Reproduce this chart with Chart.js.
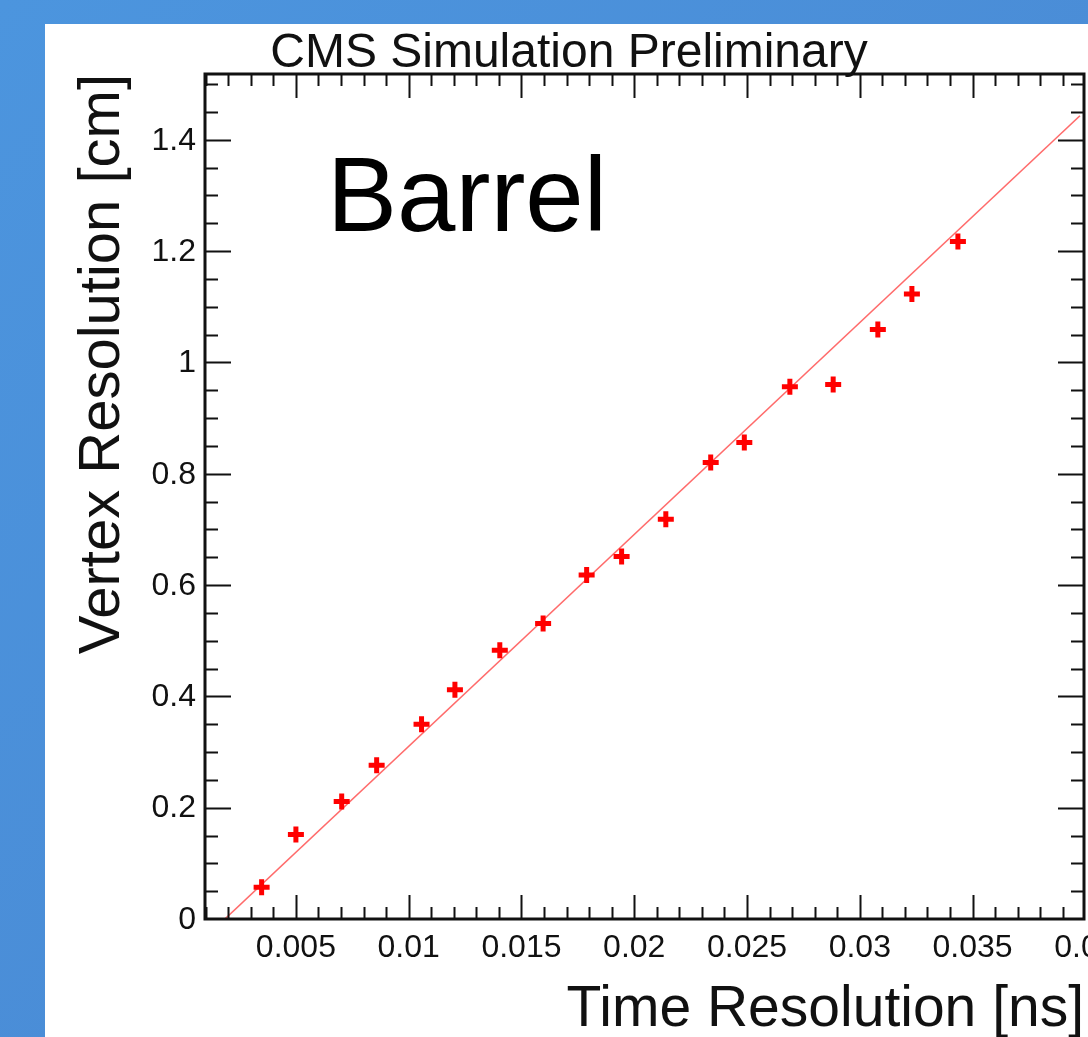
<!DOCTYPE html>
<html>
<head>
<meta charset="utf-8">
<script src="https://cdn.jsdelivr.net/npm/chart.js@4.4.1/dist/chart.umd.min.js"></script>
<style>
    html, body { margin: 0; padding: 0; }
    body {
        width: 1088px; height: 1037px; overflow: hidden;
        background: linear-gradient(135deg, #4c95de 0%, #4a8cd6 60%, #4b86cf 100%);
        position: relative;
    }
    #panel {
        position: absolute; left: 45px; top: 24px;
        width: 1043px; height: 1013px; background: #fff;
    }
    canvas { display: block; }
</style>
</head>
<body>
<div id="panel"><canvas id="resChart" width="1043" height="1013"></canvas></div>
<script>
// measured points: time resolution [ns] vs vertex resolution [cm]
const timeRes = [0.00348, 0.0050, 0.00703, 0.00858, 0.01057, 0.01205, 0.01404, 0.01596, 0.01789,
                 0.01944, 0.02140, 0.02339, 0.02488, 0.02690, 0.02882, 0.03080, 0.03231, 0.03435];
const vertexRes = [0.057, 0.152, 0.211, 0.276, 0.350, 0.412, 0.483, 0.531, 0.618,
                   0.651, 0.718, 0.820, 0.856, 0.956, 0.960, 1.059, 1.123, 1.217];

// straight-line fit, end points
const fitX = [0.00185, 0.03976];
const fitY = [0, 1.443];

const xTicks = [0.005, 0.01, 0.015, 0.02, 0.025, 0.03, 0.035, 0.04];
const xTickLabels = ['0.005', '0.01', '0.015', '0.02', '0.025', '0.03', '0.035', '0.04'];
const yTicks = [0, 0.2, 0.4, 0.6, 0.8, 1, 1.2, 1.4];
const yTickLabels = ['0', '0.2', '0.4', '0.6', '0.8', '1', '1.2', '1.4'];

const X_MIN = 0.00097, X_MAX = 0.03994, Y_MIN = 0, Y_MAX = 1.518;
const FONT = '"Liberation Sans", Arial, Helvetica, sans-serif';

// ROOT-style frame: ticks inside on all four sides, labels outside
const rootFrame = {
    id: 'rootFrame',
    afterDatasetsDraw(chart) {
        const ctx = chart.ctx;
        const a = chart.chartArea;
        const xs = chart.scales.x, ys = chart.scales.y;
        ctx.save();
        ctx.strokeStyle = '#111';

        // minor + major ticks on x (bottom and top)
        ctx.lineWidth = 2;
        ctx.beginPath();
        for (let i = 1; i <= 39; i++) {
            const v = i / 1000;
            const px = Math.round(xs.getPixelForValue(v)) + 0.5;
            const len = (i % 5 === 0) ? 24 : 12;
            ctx.moveTo(px, a.bottom); ctx.lineTo(px, a.bottom - len);
            ctx.moveTo(px, a.top); ctx.lineTo(px, a.top + len);
        }
        // y ticks (left and right)
        for (let i = 1; i <= 30; i++) {
            const v = i * 0.05;
            const py = Math.round(ys.getPixelForValue(v)) + 0.5;
            const len = (i % 4 === 0) ? 26 : 13;
            ctx.moveTo(a.left, py); ctx.lineTo(a.left + len, py);
            ctx.moveTo(a.right, py); ctx.lineTo(a.right - len, py);
        }
        ctx.stroke();

        ctx.lineWidth = 3;
        ctx.strokeRect(a.left, a.top, a.right - a.left, a.bottom - a.top);

        // tick labels
        ctx.fillStyle = '#111';
        ctx.font = '32px ' + FONT;
        ctx.textAlign = 'center';
        ctx.textBaseline = 'alphabetic';
        xTicks.forEach((v, i) => {
            ctx.fillText(xTickLabels[i], xs.getPixelForValue(v), a.bottom + 38);
        });
        ctx.textAlign = 'right';
        ctx.textBaseline = 'middle';
        yTicks.forEach((v, i) => {
            ctx.fillText(yTickLabels[i], a.left - 9, ys.getPixelForValue(v) + 1);
        });

        // axis titles, aligned to the axis ends
        ctx.font = '57px ' + FONT;
        ctx.textAlign = 'right';
        ctx.textBaseline = 'alphabetic';
        ctx.fillText('Time Resolution [ns]', a.right, 1002);

        ctx.save();
        ctx.translate(74, a.top);
        ctx.rotate(-Math.PI / 2);
        ctx.textAlign = 'right';
        ctx.font = '58px ' + FONT;
        ctx.fillText('Vertex Resolution [cm]', 0, 0);
        ctx.restore();

        // header and region label
        ctx.textAlign = 'center';
        ctx.font = '48px ' + FONT;
        ctx.fillText('CMS Simulation Preliminary', 524, 43);

        ctx.fillStyle = '#000';
        ctx.textAlign = 'left';
        ctx.font = '105px ' + FONT;
        ctx.fillText('Barrel', 282, 207);
        ctx.restore();
    }
};

new Chart(document.getElementById('resChart').getContext('2d'), {
    type: 'scatter',
    data: {
        datasets: [
            {
                label: 'fit',
                data: fitX.map((x, i) => ({ x: x, y: fitY[i] })),
                showLine: true,
                borderColor: 'rgba(255, 70, 70, 0.8)',
                borderWidth: 1.6,
                pointRadius: 0,
                order: 2
            },
            {
                label: 'Barrel',
                data: timeRes.map((x, i) => ({ x: x, y: vertexRes[i] })),
                pointStyle: 'cross',
                pointRadius: 8,
                pointBorderWidth: 5,
                borderColor: '#ff0000',
                backgroundColor: '#ff0000',
                order: 1
            }
        ]
    },
    options: {
        responsive: false,
        animation: false,
        devicePixelRatio: 1,
        layout: { autoPadding: false, padding: { left: 160, top: 50, right: 4, bottom: 118 } },
        plugins: { legend: { display: false }, tooltip: { enabled: false }, title: { display: false } },
        scales: {
            x: { type: 'linear', min: X_MIN, max: X_MAX, display: false },
            y: { type: 'linear', min: Y_MIN, max: Y_MAX, display: false }
        }
    },
    plugins: [rootFrame]
});
</script>
</body>
</html>
